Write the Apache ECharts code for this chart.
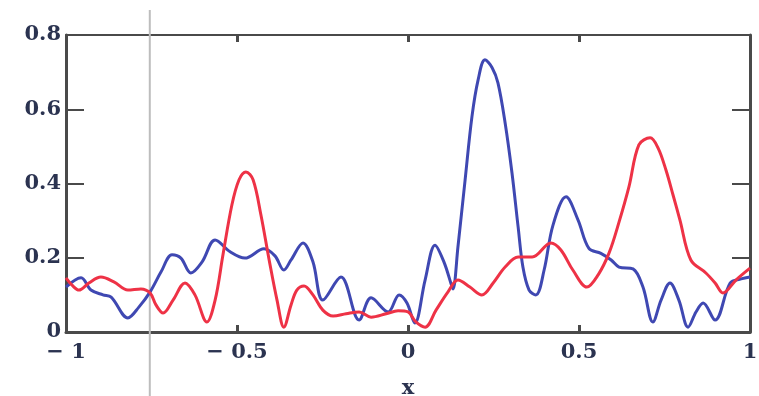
<!DOCTYPE html>
<html>
<head>
<meta charset="utf-8">
<script src="https://cdn.jsdelivr.net/npm/echarts@6/dist/echarts.min.js"></script>
<style>
html,body{margin:0;padding:0;background:#fff;}
#chart{width:759px;height:396px;}
</style>
</head>
<body>
<div id="chart"></div>
<script>
// Blue curve samples
const blueX = [-1.000,-0.956,-0.927,-0.892,-0.868,-0.819,-0.787,-0.754,-0.722,-0.690,-0.664,-0.635,-0.602,-0.564,-0.520,-0.477,-0.421,-0.389,-0.363,-0.342,-0.307,-0.278,-0.249,-0.196,-0.143,-0.108,-0.058,-0.026,-0.003,0.020,0.050,0.079,0.105,0.129,0.132,0.146,0.167,0.187,0.205,0.225,0.246,0.263,0.284,0.304,0.322,0.336,0.354,0.374,0.398,0.424,0.462,0.497,0.529,0.564,0.594,0.617,0.658,0.687,0.716,0.740,0.766,0.792,0.819,0.842,0.863,0.898,0.942,0.974,1.000];
const blueY = [0.121,0.146,0.113,0.100,0.094,0.038,0.067,0.108,0.162,0.208,0.199,0.159,0.189,0.248,0.216,0.199,0.224,0.205,0.167,0.194,0.240,0.189,0.086,0.148,0.032,0.092,0.054,0.100,0.078,0.024,0.140,0.234,0.189,0.121,0.116,0.229,0.410,0.580,0.679,0.733,0.712,0.671,0.563,0.429,0.283,0.175,0.113,0.100,0.167,0.288,0.364,0.302,0.225,0.212,0.194,0.175,0.170,0.121,0.027,0.086,0.132,0.086,0.013,0.054,0.078,0.032,0.132,0.143,0.148];
// Red curve samples
const redX = [-1.000,-0.980,-0.962,-0.933,-0.898,-0.860,-0.819,-0.781,-0.754,-0.737,-0.716,-0.687,-0.652,-0.623,-0.588,-0.564,-0.541,-0.515,-0.494,-0.474,-0.453,-0.430,-0.406,-0.383,-0.363,-0.342,-0.325,-0.304,-0.278,-0.249,-0.219,-0.181,-0.143,-0.108,-0.064,-0.029,0.000,0.023,0.050,0.082,0.117,0.146,0.181,0.216,0.249,0.284,0.322,0.363,0.418,0.447,0.482,0.523,0.556,0.588,0.617,0.646,0.675,0.708,0.731,0.754,0.775,0.795,0.827,0.871,0.898,0.921,0.959,1.000];
const redY = [0.146,0.124,0.113,0.132,0.148,0.135,0.113,0.116,0.105,0.073,0.051,0.086,0.132,0.100,0.027,0.086,0.208,0.342,0.410,0.431,0.410,0.315,0.194,0.086,0.013,0.073,0.113,0.124,0.100,0.059,0.043,0.049,0.054,0.040,0.049,0.057,0.054,0.027,0.013,0.059,0.108,0.140,0.121,0.100,0.132,0.175,0.202,0.202,0.240,0.221,0.167,0.121,0.154,0.213,0.296,0.391,0.504,0.523,0.496,0.437,0.369,0.302,0.194,0.159,0.132,0.105,0.140,0.172];
const xTickLabels = {"-1":"\u2212 1","-0.5":"\u2212 0.5","0":"0","0.5":"0.5","1":"1"};
const yTickLabels = {"0":"0","0.2":"0.2","0.4":"0.4","0.6":"0.6","0.8":"0.8"};
const cursorX = -0.755;

const toPairs = (xs, ys) => xs.map((x, i) => [x, ys[i]]);
const labelFont = {fontFamily:'DejaVu Serif', fontWeight:'bold', fontSize:21, color:'#2b3350'};
const frameColor = '#4a4a4a';

const chart = echarts.init(document.getElementById('chart'), null, {renderer:'canvas'});
chart.setOption({
  backgroundColor:'#ffffff',
  animation:false,
  grid:{left:66, top:35, width:684, height:297, containLabel:false, outerBoundsMode:'none'},
  xAxis:[{
    type:'value', min:-1, max:1, interval:0.5, position:'bottom',
    name:'x', nameLocation:'middle', nameGap:46,
    nameTextStyle:Object.assign({}, labelFont, {fontSize:21}),
    axisLine:{show:true, onZero:false, lineStyle:{color:frameColor, width:3}},
    axisTick:{show:true, inside:true, length:7, lineStyle:{color:frameColor, width:3}},
    axisLabel:Object.assign({margin:10, formatter:v => xTickLabels[String(v)] || ''}, labelFont),
    splitLine:{show:false}
  },{
    type:'value', min:-1, max:1, interval:0.5, position:'top',
    axisLine:{show:true, onZero:false, lineStyle:{color:frameColor, width:2}},
    axisTick:{show:true, inside:true, length:7, lineStyle:{color:frameColor, width:3}},
    axisLabel:{show:false}, splitLine:{show:false}
  }],
  yAxis:[{
    type:'value', min:0, max:0.8, interval:0.2, position:'left',
    axisLine:{show:true, onZero:false, lineStyle:{color:frameColor, width:3}},
    axisTick:{show:true, inside:true, length:18, lineStyle:{color:frameColor, width:2}},
    axisLabel:Object.assign({margin:5, formatter:v => yTickLabels[String(Math.round(v*10)/10)] || ''}, labelFont),
    splitLine:{show:false}
  },{
    type:'value', min:0, max:0.8, interval:0.2, position:'right',
    axisLine:{show:true, onZero:false, lineStyle:{color:frameColor, width:3}},
    axisTick:{show:true, inside:true, length:18, lineStyle:{color:frameColor, width:2}},
    axisLabel:{show:false}, splitLine:{show:false}
  }],
  series:[{
    type:'line', name:'blue', data:toPairs(blueX, blueY), smooth:0.35, symbol:'none',
    lineStyle:{color:'#3f48b2', width:3}, z:3
  },{
    type:'line', name:'red', data:toPairs(redX, redY), smooth:0.35, symbol:'none',
    lineStyle:{color:'#ee3246', width:3}, z:4
  }]
});
const p = chart.convertToPixel({gridIndex:0}, [cursorX, 0]);
chart.setOption({
  graphic:[{
    type:'line', z:1, silent:true,
    shape:{x1:p[0], y1:10, x2:p[0], y2:396},
    style:{stroke:'#bdbdbd', lineWidth:2}
  }]
});
</script>
</body>
</html>
